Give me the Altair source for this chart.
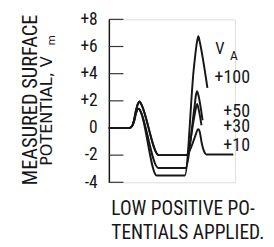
import altair as alt
import pandas as pd

# ---- data (x in arbitrary sweep units, y in volts) ----
x_10 = [0, 21, 24, 26, 28, 30, 31.6, 33, 51.5, 80, 89, 91.3, 92.3, 93.3, 96, 99, 100.5, 128.3]
y_10 = [0, 0, 0.15, 0.6, 1.3, 1.8, 1.95, 1.8, -2.0, -2.0, -0.6, -0.15, -0.1, -0.2, -1.2, -1.85, -1.95, -1.95]

x_30 = [0, 21, 24, 26, 28, 30, 31.6, 33, 51.5, 80, 88, 90, 91, 92, 95.5]
y_30 = [0, 0, 0.15, 0.6, 1.3, 1.8, 1.95, 1.8, -2.0, -2.0, 0.8, 1.55, 1.76, 1.55, 0.2]

x_50 = [0, 21, 24, 26, 28, 30, 31, 32.5, 51, 79, 88, 90, 91, 92, 96.6]
y_50 = [0, 0, 0.15, 0.5, 1.1, 1.4, 1.42, 1.25, -2.95, -2.95, 1.4, 2.5, 2.7, 2.5, 0.57]

x_100 = [0, 21, 24, 26, 28, 30, 31, 32.5, 49.3, 78.3, 87.6, 91, 92.3, 93.5, 101.6]
y_100 = [0, 0, 0.15, 0.5, 1.1, 1.4, 1.42, 1.25, -3.5, -3.5, 4.4, 6.4, 6.75, 6.4, 2.95]

series = {"+10": (x_10, y_10), "+30": (x_30, y_30), "+50": (x_50, y_50), "+100": (x_100, y_100)}
tick_values = [-4, -2, 0, 2, 4, 6, 8]
va_labels = ["+100", "+50", "+30", "+10"]

rows = []
for name, (xs, ys) in series.items():
    for i, (xv, yv) in enumerate(zip(xs, ys)):
        rows.append({"series": name, "i": i, "x": xv, "y": yv})
df = pd.DataFrame(rows)

NARROW = "Roboto Condensed, Sofia Sans Condensed, Liberation Sans Narrow, sans-serif"
INK = "#161616"

xscale = alt.Scale(domain=[0, 130])
yscale = alt.Scale(domain=[-4, 8])

yaxis = alt.Axis(values=tick_values, ticks=False, tickSize=0, grid=False,
                 domainColor=INK, domainWidth=1.5, labelPadding=12,
                 labelOverlap=False, labelFlush=False,
                 labelFont=NARROW, labelFontSize=18, labelColor=INK,
                 labelExpr="datum.value > 0 ? '+' + datum.value : '' + datum.value",
                 title=None)

ticks = alt.Chart(pd.DataFrame({"v": tick_values})).mark_rule(color="#333", strokeWidth=1.2).encode(
    y=alt.Y("v:Q", scale=yscale, axis=yaxis), x=alt.value(0), x2=alt.value(15)
)

lines = alt.Chart(df).mark_line(interpolate="monotone", strokeWidth=2, color=INK).encode(
    x=alt.X("x:Q", scale=xscale, axis=None),
    y=alt.Y("y:Q", scale=yscale, axis=yaxis),
    detail="series:N",
    order="i:Q",
)

ann = pd.DataFrame({
    "t": va_labels,
    "px": [145.5, 145.5, 145.5, 145.5],
    "py": [65.7, 100.7, 116.3, 135.7],
})
va_nums = alt.Chart(ann).mark_text(font=NARROW, fontSize=18.5, align="right", baseline="alphabetic", color=INK).encode(
    x=alt.X("px:Q", scale=None), y=alt.Y("py:Q", scale=None), text="t:N"
)
v_txt = alt.Chart(pd.DataFrame({"t": ["V"]})).mark_text(font=NARROW, fontSize=17, align="left", baseline="alphabetic", color=INK).encode(
    x=alt.value(109.7), y=alt.value(35.7), text="t:N")
a_txt = alt.Chart(pd.DataFrame({"t": ["A"]})).mark_text(font=NARROW, fontSize=14, align="left", baseline="alphabetic", color=INK).encode(
    x=alt.value(125), y=alt.value(42), text="t:N")

t1 = alt.Chart(pd.DataFrame({"t": ["MEASURED SURFACE"]})).mark_text(font=NARROW, fontSize=21, angle=270, align="center", baseline="alphabetic", color=INK).encode(
    x=alt.value(-74.5), y=alt.value(83), text="t:N")
t2 = alt.Chart(pd.DataFrame({"t": ["POTENTIAL, V"]})).mark_text(font="DejaVu Sans", fontSize=16.5, angle=270, align="left", baseline="alphabetic", color=INK).encode(
    x=alt.value(-58.5), y=alt.value(151), text="t:N")
t3 = alt.Chart(pd.DataFrame({"t": ["m"]})).mark_text(font="DejaVu Sans", fontSize=11, angle=270, align="center", baseline="alphabetic", color=INK).encode(
    x=alt.value(-56), y=alt.value(21.5), text="t:N")

c1 = alt.Chart(pd.DataFrame({"t": ["LOW POSITIVE PO-"]})).mark_text(font=NARROW, fontSize=20, align="left", baseline="alphabetic", color=INK).encode(
    x=alt.value(2.5), y=alt.value(202), text="t:N")
c2 = alt.Chart(pd.DataFrame({"t": ["TENTIALS APPLIED."]})).mark_text(font=NARROW, fontSize=20, align="left", baseline="alphabetic", color=INK).encode(
    x=alt.value(2.5), y=alt.value(226), text="t:N")

chart = alt.layer(ticks, lines, va_nums, v_txt, a_txt, t1, t2, t3, c1, c2).properties(
    width=130, height=168,
    autosize=alt.AutoSizeParams(type="none"),
    padding={"left": 104, "top": 8, "right": 32, "bottom": 63},
).configure_view(stroke=None).configure(background="white")

chart.save("out.html", embed_options={"renderer": "svg", "actions": False})
